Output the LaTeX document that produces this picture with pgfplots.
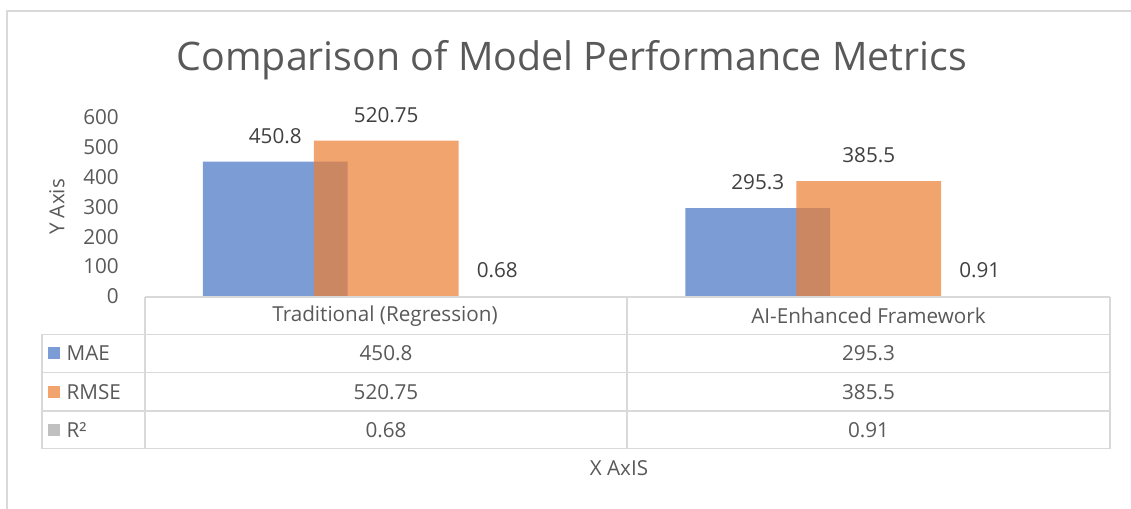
\documentclass[border=0pt]{standalone}
\usepackage{pgfplots}
\pgfplotsset{compat=1.18}
\usepackage{fontspec}
\setmainfont{Open Sans}
\definecolor{maeblue}{HTML}{4472C4}
\definecolor{rmseorange}{HTML}{ED7D31}
\definecolor{rtwogray}{HTML}{A5A5A5}
\definecolor{txtgray}{HTML}{595959}
\definecolor{lblgray}{HTML}{404040}
\definecolor{linegray}{HTML}{D9D9D9}
\begin{document}
\begin{tikzpicture}[x=0.75pt,y=0.75pt]
\path[use as bounding box] (0,0) rectangle (1131,-509);
\draw[linegray, line width=1.1pt] (7,-509) -- (7,-11) -- (1131,-11);
\node[text=txtgray, font=\fontsize{29.5}{34}\selectfont] at (572,-60) {Comparison of Model Performance Metrics};
\begin{axis}[
  at={(108.75pt,-222.375pt)}, anchor=south west,
  scale only axis, width=723.75pt, height=134.6pt,
  xmin=-0.5, xmax=1.5, ymin=0, ymax=600,
  ytick={0,100,...,600},
  xtick=\empty,
  axis line style={draw=none},
  tick style={draw=none},
  yticklabel style={font=\fontsize{15.5}{18}\selectfont, text=txtgray, inner sep=0pt, xshift=-19.5pt},
  /pgf/number format/assume math mode=true,
  ybar, bar width=0.3,
  clip=false,
  nodes near coords,
  nodes near coords style={font=\fontsize{15.5}{18}\selectfont, text=lblgray, text opacity=1, inner sep=0pt, anchor=south, yshift=13.5pt},
]
\addplot[draw=none, fill=maeblue, fill opacity=0.7, bar shift=-0.23] coordinates {(0,450.8) (1,295.3)};
\addplot[draw=none, fill=rmseorange, fill opacity=0.7, bar shift=0] coordinates {(0,520.75) (1,385.5)};
\addplot[draw=none, fill=rtwogray, fill opacity=0.7, bar shift=0.23] coordinates {(0,0.68) (1,0.91)};
\end{axis}
% data table
\begin{scope}[linegray, line width=1.1pt]
\draw (145,-297) -- (1110,-297);
\foreach \yy in {334.5,372.5,411,448.5} { \draw (42,-\yy) -- (1110,-\yy); }
\foreach \xx in {145,627,1110} { \draw (\xx,-297) -- (\xx,-448.5); }
\draw (42,-334.5) -- (42,-448.5);
\end{scope}
\begin{scope}[every node/.style={text=txtgray, font=\fontsize{15.5}{18}\selectfont}]
\node at (385,-316) {Traditional (Regression)};
\node at (868.5,-316) {AI-Enhanced Framework};
\node at (386,-353.5) {450.8};
\node at (868.5,-353.5) {295.3};
\node at (386,-392) {520.75};
\node at (868.5,-392) {385.5};
\node at (386,-430) {0.68};
\node at (868.5,-430) {0.91};
\node[anchor=west] at (62,-353.5) {MAE};
\node[anchor=west] at (62,-392) {RMSE};
\node[anchor=west] at (62,-430) {R²};
\node[rotate=90] at (57,-207) {Y Axis};
\node at (619,-468) {X AxIS};
\end{scope}
\fill[maeblue, fill opacity=0.7] (48,-347.5) rectangle (60,-359.5);
\fill[rmseorange, fill opacity=0.7] (48,-386) rectangle (60,-398);
\fill[rtwogray, fill opacity=0.7] (48,-424) rectangle (60,-436);
\end{tikzpicture}
\end{document}
